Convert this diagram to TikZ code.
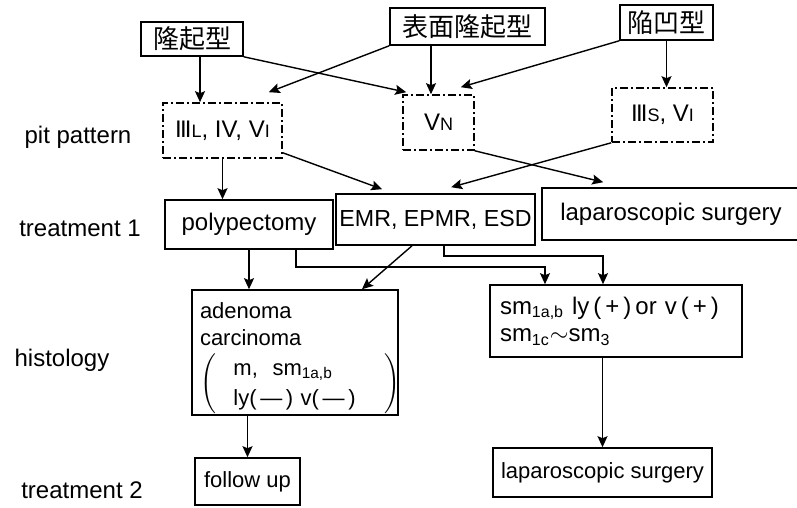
\documentclass[tikz,border=0pt]{standalone}
\usepackage{fontspec}
\setmainfont{Liberation Sans}
\newfontfamily\cjk{Noto Sans CJK JP}
\usetikzlibrary{arrows.meta,calc}
\newcommand{\romIII}{I\kern-0.9pt I\kern-0.9pt I}
\begin{document}
\begin{tikzpicture}[x=0.5pt,y=-0.5pt,
  box/.style={draw, line width=0.8pt, inner sep=0pt, font=\fontsize{12}{13.5}\selectfont},
  jbox/.style={box, font=\fontsize{13}{14}\cjk},
  pitbox/.style={box, dash pattern=on 4pt off 1.5pt on 1pt off 1.5pt},
  lbl/.style={font=\fontsize{12}{14}\selectfont, inner sep=0pt},
  arr/.style={line width=0.7pt, -{Stealth[length=5.5pt,width=5pt,inset=1pt]}}]
\useasboundingbox (0,0) rectangle (797,508);
\fill[white] (0,0) rectangle (797,508);
% top row
\node[jbox, minimum width=51pt, minimum height=17pt] (a1) at (192,39) {隆起型};
\node[jbox, minimum width=77.5pt, minimum height=18.5pt] (a2) at (467.5,26.5) {表面隆起型};
\node[jbox, minimum width=46.5pt, minimum height=17.5pt] (a3) at (666.5,22.5) {陥凹型};
% pit pattern
\node[lbl] (lp) at (78,137) {pit pattern};
\node[pitbox, minimum width=59.5pt, minimum height=27.5pt] (p1) at (222.5,130.5) {\romIII{\small L}, IV, V{\small I}};
\node[pitbox, minimum width=35.5pt, minimum height=27.5pt] (p2) at (438.5,122.5) {V{\small N}};
\node[pitbox, minimum width=50.5pt, minimum height=27pt] (p3) at (662.5,115) {\romIII{\small S}, V{\small I}};
% treatment 1
\node[lbl] (lt1) at (80,228) {treatment 1};
\node[box, minimum width=84pt, minimum height=24.5pt] (t1) at (249,224.5) {polypectomy};
\node[box, minimum width=99.5pt, minimum height=25.5pt, font=\fontsize{11.6}{13}\selectfont] (t2) at (435.5,219.5) {EMR, EPMR, ESD};
\node[box, minimum width=129pt, minimum height=26pt] (t3) at (671,214) {laparoscopic surgery};
% histology
\node[lbl] (lh) at (62,360) {histology};
\node[box, minimum width=103pt, minimum height=62.5pt, text width=95pt, align=left, font=\fontsize{11}{13.5}\selectfont] (h) at (295,352.5)
  {\rule{0pt}{14pt}adenoma\\carcinoma\\[3pt]$\Biggl(\hspace{0.8em}{\def\arraystretch{1.12}\begin{tabular}{@{}l@{}}m,\ \ sm\textsubscript{1a,b}\\ly(\,—\,) v(\,—\,)\end{tabular}}\hspace{1.3em}\Biggr)$};
\node[box, minimum width=126pt, minimum height=36pt, text width=116pt, align=left, font=\fontsize{12}{13.8}\selectfont] (s) at (616,321)
  {sm\textsubscript{1a,b} ly\,(\,+\,)\,or v\,(\,+\,)\\sm\textsubscript{1c}$\sim$sm\textsubscript{3}};
% treatment 2
\node[lbl] (lt2) at (82,490) {treatment 2};
\node[box, minimum width=52.5pt, minimum height=23.5pt, font=\fontsize{11}{13}\selectfont] (f) at (247.5,481.5) {follow up};
\node[box, minimum width=109.5pt, minimum height=24.5pt, font=\fontsize{11}{13}\selectfont] (l2) at (602.5,472.5) {laparoscopic surgery};
% connectors
\coordinate (a1s) at ([xshift=4pt]a1.south);
\draw[arr] (a1s) -- (a1s |- p1.north);
\draw[arr] (a1.south east) -- ([xshift=2pt,yshift=1pt]p2.north west);
\draw[arr] (a2.south west) -- ([xshift=-7pt,yshift=5pt]p1.north east);
\coordinate (p2n) at ([xshift=-3.75pt]p2.north);
\draw[arr] (a2.south -| p2n) -- (p2n);
\draw[arr] (a3.south west) -- ([xshift=-7pt,yshift=3.5pt]p2.north east);
\draw[arr] (a3.south) -- (a3.south |- p3.north);
\draw[arr] (p1.south) -- (p1.south |- t1.north);
\draw[arr] ([yshift=3pt]p1.south east) -- ([xshift=23.5pt,yshift=2pt]t2.north west);
\draw[arr] (p2.south east) -- ([xshift=31pt,yshift=2.5pt]t3.north west);
\draw[arr] (p3.south west) -- ([xshift=58pt,yshift=3pt]t2.north west);
\draw[arr] (t1.south) -- (t1.south |- h.north);
\coordinate (s1) at ([xshift=-35.5pt]s.north);
\draw[arr] ([xshift=23.5pt]t1.south) -- ++(0,-8.5pt) -| (s1);
\coordinate (s2) at ([xshift=-6.5pt]s.north);
\draw[arr] ([xshift=4.25pt]t2.south) -- ++(0,-5pt) -| (s2);
\draw[arr] ([xshift=-11.75pt]t2.south) -- ([xshift=33.5pt]h.north);
\draw[arr] (f.north |- h.south) -- (f.north);
\draw[arr] (l2.north |- s.south) -- (l2.north);
\end{tikzpicture}
\end{document}
